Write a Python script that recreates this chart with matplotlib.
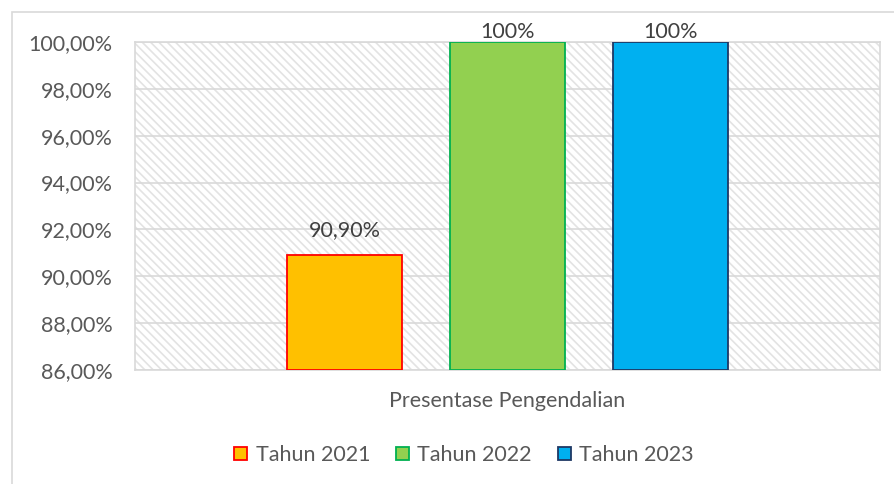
import matplotlib.pyplot as plt
from matplotlib.patches import Rectangle

years = ['Tahun 2021', 'Tahun 2022', 'Tahun 2023']
values = [90.9, 100, 100]
value_labels = ['90,90%', '100%', '100%']
face_colors = ['#ffc000', '#92d050', '#00b0f0']
edge_colors = ['#ff0000', '#00b050', '#1f3864']
category = 'Presentase Pengendalian'
y_ticks = [86, 88, 90, 92, 94, 96, 98, 100]

plt.rcParams['font.family'] = ['Lato', 'DejaVu Sans']
plt.rcParams['hatch.linewidth'] = 1.2
plt.rcParams['hatch.color'] = '#e3e3e3'
text_color = '#595959'
fs = 15.5

fig = plt.figure(figsize=(8.95, 4.84), dpi=100)
# outer chart border
fig.patches.append(Rectangle((12 / 895, -0.1), 1.2, 1.1 - 12 / 484, transform=fig.transFigure,
                             fill=False, edgecolor='#d9d9d9', linewidth=1.2))
ax = fig.add_axes([135 / 895, 1 - 370 / 484, 745 / 895, 328 / 484])

# hatched plot area background
ax.add_patch(Rectangle((0, 0), 1, 1, transform=ax.transAxes, facecolor='white',
                       edgecolor='#e3e3e3', hatch='\\\\\\\\', linewidth=0, zorder=0))

ax.set_ylim(86, 100)
ax.set_xlim(-2.285, 2.285)
ax.set_yticks(y_ticks)
ax.set_yticklabels(['%d,00%%' % t for t in y_ticks])
ax.grid(axis='y', color='#d9d9d9', linewidth=1.2, zorder=1)
ax.set_axisbelow(True)

xs = [-1, 0, 1]
for x, v, lab, fc, ec, name in zip(xs, values, value_labels, face_colors, edge_colors, years):
    ax.bar(x, v - 86, bottom=86, width=0.7, color=fc, edgecolor=ec, linewidth=1.3,
           label=name, zorder=3)
    # labels at the top edge get pushed down like in Excel
    off = 7 if v >= ax.get_ylim()[1] else 18
    ax.annotate(lab, (x, v), xytext=(0, off), textcoords='offset points', ha='center',
                va='center', fontsize=fs, color='#404040', annotation_clip=False, zorder=4)

for s in ax.spines.values():
    s.set_color('#d9d9d9')
    s.set_linewidth(1.2)
ax.tick_params(axis='both', length=0, labelsize=fs, labelcolor=text_color)
ax.tick_params(axis='y', pad=16)
ax.set_xticks([0])
ax.set_xticklabels([category])
ax.tick_params(axis='x', pad=15)

fig.legend(loc='center', bbox_to_anchor=(464 / 895, 1 - 455 / 484), ncol=3, frameon=False,
           fontsize=fs, handlelength=0.6, handleheight=0.6, handletextpad=0.4,
           columnspacing=1.2, labelcolor=text_color)

fig.savefig('out.png', dpi=100)
